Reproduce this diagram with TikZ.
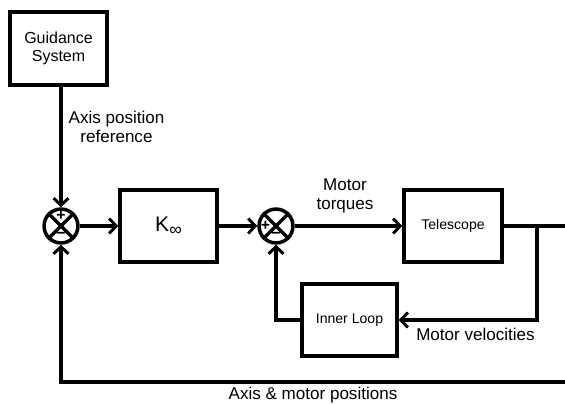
\documentclass[tikz,border=0pt]{standalone}
\usepackage{fontspec}
\setmainfont{Liberation Sans}
\usetikzlibrary{arrows.meta}
\definecolor{linecol}{gray}{0.0}
\tikzset{
  blk/.style={draw=linecol,line width=2pt,rectangle,inner sep=1pt,align=center},
  sumj/.style={draw=linecol,circle,line width=2pt,minimum size=19.3pt,inner sep=0pt},
  sig/.style={draw=linecol,line width=2pt},
  tip/.style={-{Straight Barb[length=4pt,width=8.5pt,line width=1.7pt]}},
  lab/.style={font=\fontsize{9.7}{11}\selectfont,align=center},
  small/.style={font=\fontsize{8}{9.5}\selectfont},
  sgn/.style={font=\fontsize{9}{9}\selectfont\bfseries,inner sep=0pt},
}

\begin{document}
\begin{tikzpicture}[x=0.2cm,y=0.2cm]
  \useasboundingbox (0,0) rectangle (56.5,-40.3);
  % blocks
  \node[blk,minimum width=9.7*0.2cm,minimum height=7.3*0.2cm,font=\fontsize{9.1}{10.5}\selectfont] (guid) at (5.85,-4.85) {Guidance\\System};
  \node[blk,minimum width=9.7*0.2cm,minimum height=7.2*0.2cm,font=\fontsize{12}{12}\selectfont] (kinf) at (16.85,-22.6) {K{\raisebox{-0.4ex}{\fontsize{10}{10}\selectfont ∞}}};
  \node[blk,small,minimum width=9.8*0.2cm,minimum height=7.2*0.2cm] (tel) at (45.3,-22.6) {Telescope};
  \node[blk,small,minimum width=9.5*0.2cm,minimum height=7.2*0.2cm] (inner) at (34.95,-32.0) {Inner Loop};
  % summing junctions
  \node[sumj] (s1) at (6.1,-22.6) {};
  \draw[sig] (s1.north west) -- (s1.south east) (s1.north east) -- (s1.south west);
  \node[sgn] at ([yshift=5.5pt]s1.center) {+};
  \node[sgn] at ([yshift=-5.5pt]s1.center) {\textminus};
  \node[sumj] (s2) at (27.6,-22.6) {};
  \draw[sig] (s2.north west) -- (s2.south east) (s2.north east) -- (s2.south west);
  \node[sgn] at ([xshift=-6pt]s2.center) {+};
  \node[sgn] at ([yshift=-5.5pt]s2.center) {\textminus};
  % free ends
  \coordinate (rgt) at (56.5,-22.6);
  \coordinate (br) at (53.7,-22.6);
  \coordinate (bot) at (56.5,-38.2);
  % signals
  \draw[sig,tip] (s1 |- guid.south) -- (s1.north);
  \draw[sig,tip] (s1.east) -- (kinf.west);
  \draw[sig,tip] (kinf.east) -- (s2.west);
  \draw[sig,tip] (s2.east) -- (tel.west);
  \draw[sig] (tel.east) -- (rgt);
  \draw[sig,tip] (br) |- (inner.east);
  \draw[sig,tip] (inner.west) -| (s2.south);
  \draw[sig,tip] (bot) -| (s1.south);
  % labels
  \node[lab] (lref) at (11.65,-12.7) {Axis position\\reference};
  \node[lab] (ltrq) at (34.5,-19.6) {Motor\\torques};
  \node[lab] (lvel) at (47.55,-33.4) {Motor velocities};
  \node[lab] (lpos) at (31.3,-39.5) {Axis \& motor positions};
\end{tikzpicture}
\end{document}
